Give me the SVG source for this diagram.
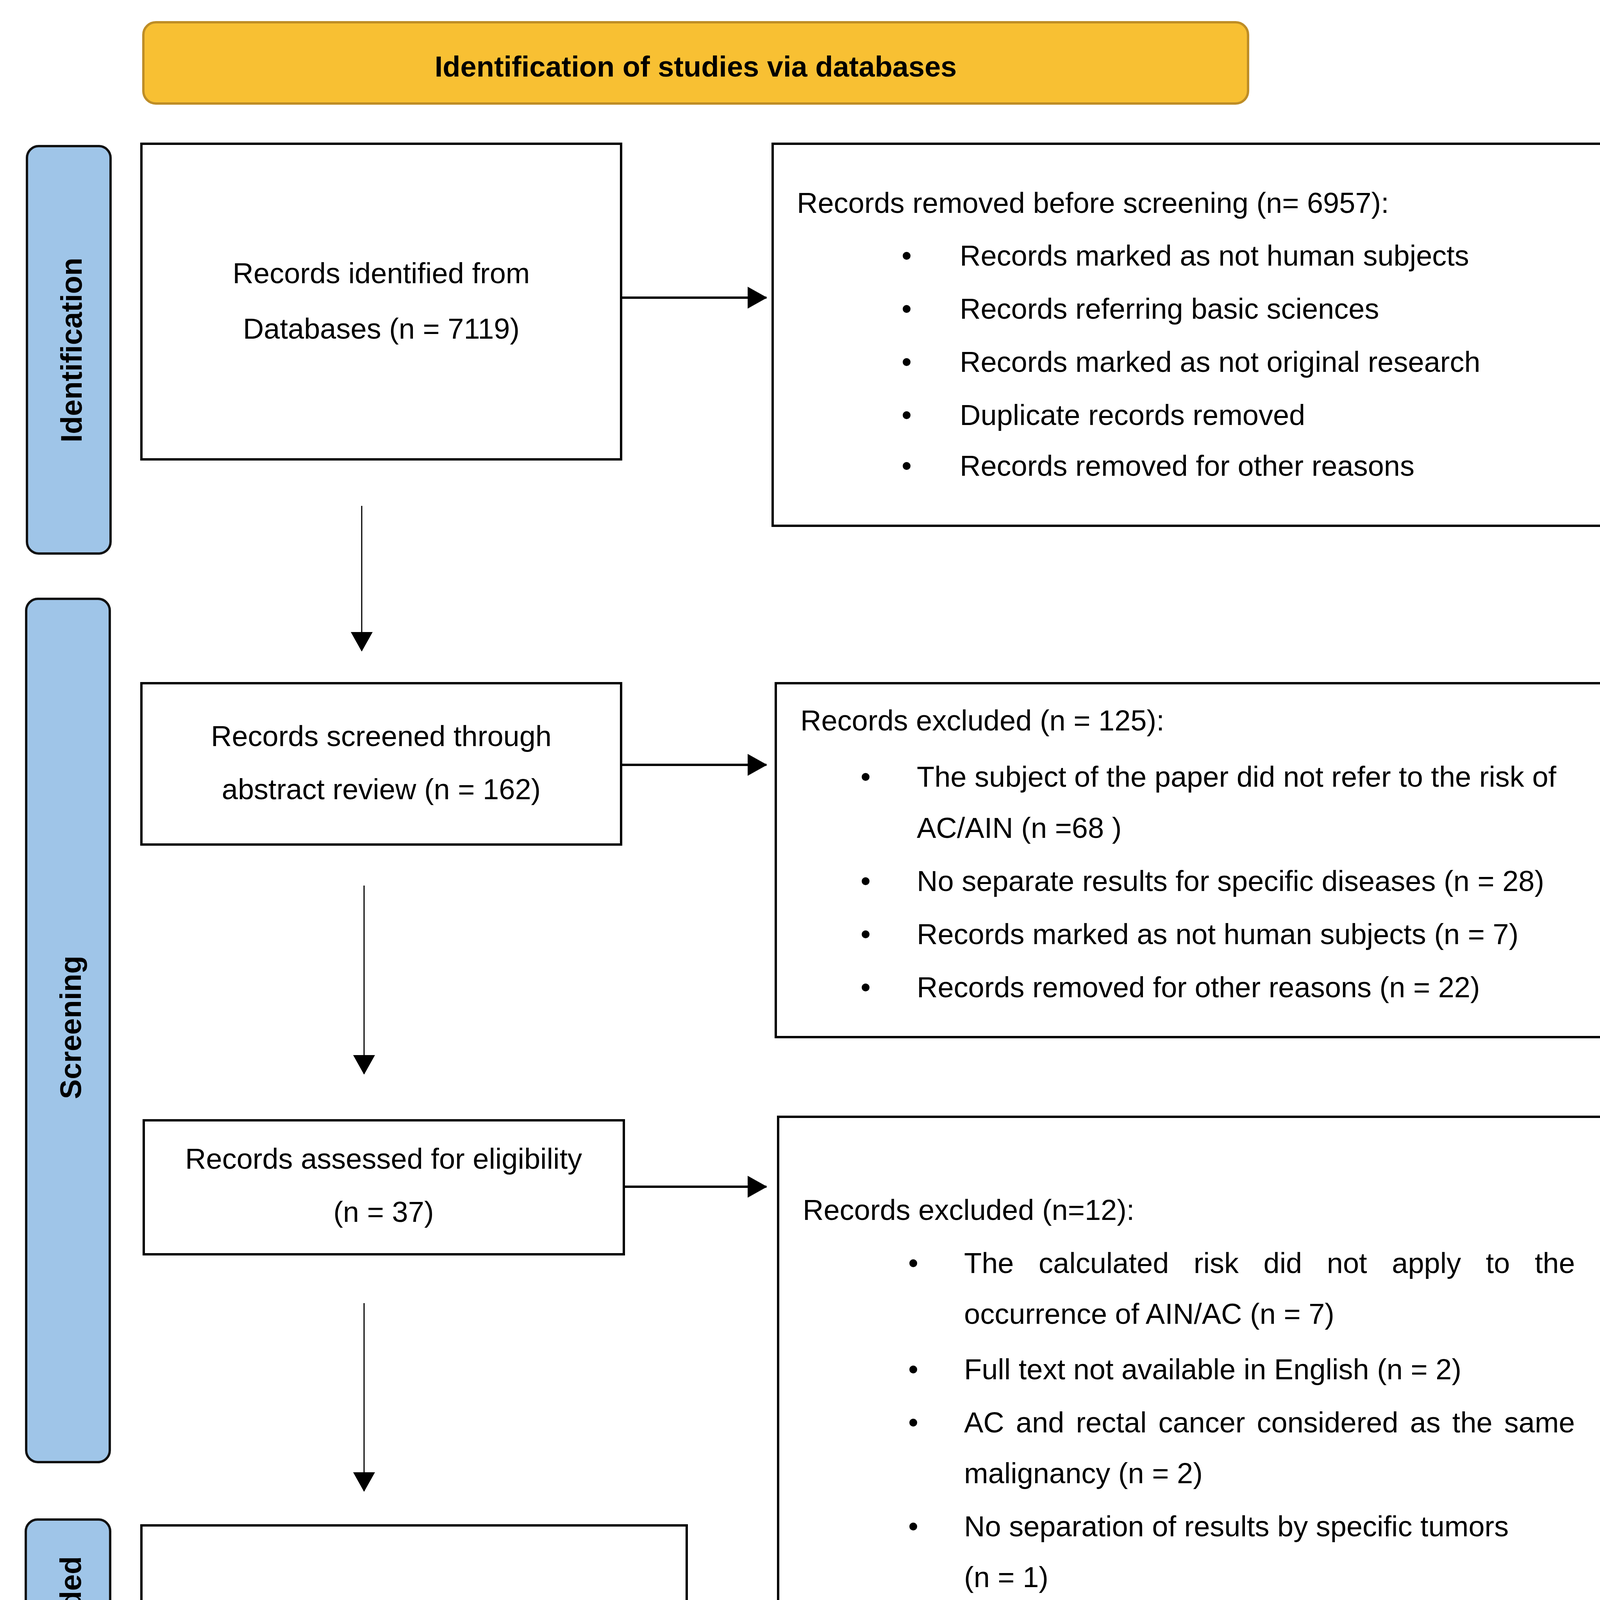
<svg xmlns="http://www.w3.org/2000/svg" width="4179" height="4435" viewBox="0 0 4179 4435">
<style>
text{font-family:"Liberation Sans",Arial,Helvetica,sans-serif;fill:#000;font-size:74px}
.box{fill:#fff;stroke:#000;stroke-width:6}
.bar{fill:#9FC5E8;stroke:#111;stroke-width:6}
.hdr{fill:#F8C033;stroke:#BE8D26;stroke-width:6}
.lab{font-weight:bold;font-size:76px;text-anchor:middle}
.c{text-anchor:middle}
.b{text-anchor:middle}
.h{stroke:#000;stroke-width:6;fill:none}
.v{stroke:#000;stroke-width:3;fill:none}
</style>
<defs>
<marker id="ah" markerUnits="userSpaceOnUse" viewBox="0 0 50 56" refX="48" refY="28" markerWidth="50" markerHeight="56" orient="auto">
<path d="M0,0 L50,28 L0,56 Z" fill="#000"/>
</marker>
</defs>
<rect width="4179" height="4435" fill="#fff"/>

<g id="header">
<rect class="hdr" x="367" y="57" width="2828" height="208" rx="32"/>
<text x="1781" y="196" class="c" style="font-weight:bold">Identification of studies via databases</text>
</g>

<g id="phase-identification">
<rect class="bar" x="69" y="374" width="214" height="1043" rx="30"/>
<text class="lab" transform="translate(209,896) rotate(-90)">Identification</text>
</g>
<g id="phase-screening">
<rect class="bar" x="67" y="1533" width="214" height="2210" rx="30"/>
<text class="lab" transform="translate(207,2630) rotate(-90)">Screening</text>
</g>
<g id="phase-included">
<rect class="bar" x="66" y="3890" width="216" height="500" rx="30"/>
<text class="lab" transform="translate(207,4140) rotate(-90)">Included</text>
</g>

<g id="records-identified">
<rect class="box" x="362" y="368" width="1228" height="808"/>
<text x="976" y="725" class="c">Records identified from</text>
<text x="976" y="867" class="c">Databases (n = 7119)</text>
</g>

<g id="records-removed">
<rect class="box" x="1978" y="368" width="2135" height="978"/>
<text x="2040" y="545">Records removed before screening (n= 6957):</text>
<text x="2321" y="680" class="b">•</text><text x="2457" y="680">Records marked as not human subjects</text>
<text x="2321" y="816" class="b">•</text><text x="2457" y="816">Records referring basic sciences</text>
<text x="2321" y="952" class="b">•</text><text x="2457" y="952">Records marked as not original research</text>
<text x="2321" y="1088" class="b">•</text><text x="2457" y="1088">Duplicate records removed</text>
<text x="2321" y="1218" class="b">•</text><text x="2457" y="1218">Records removed for other reasons</text>
</g>

<g id="records-screened">
<rect class="box" x="362" y="1749" width="1228" height="413"/>
<text x="976" y="1910" class="c">Records screened through</text>
<text x="976" y="2046" class="c">abstract review (n = 162)</text>
</g>

<g id="records-excluded-125">
<rect class="box" x="1986" y="1749" width="2127" height="906"/>
<text x="2049" y="1870">Records excluded (n = 125):</text>
<text x="2216" y="2014" class="b">•</text><text x="2347" y="2014">The subject of the paper did not refer to the risk of</text>
<text x="2347" y="2145">AC/AIN (n =68 )</text>
<text x="2216" y="2281" class="b">•</text><text x="2347" y="2281">No separate results for specific diseases (n = 28)</text>
<text x="2216" y="2417" class="b">•</text><text x="2347" y="2417">Records marked as not human subjects (n = 7)</text>
<text x="2216" y="2553" class="b">•</text><text x="2347" y="2553">Records removed for other reasons (n = 22)</text>
</g>

<g id="records-assessed">
<rect class="box" x="368" y="2868" width="1229" height="343"/>
<text x="982" y="2992" class="c">Records assessed for eligibility</text>
<text x="982" y="3128" class="c">(n = 37)</text>
</g>

<g id="records-excluded-12">
<rect class="box" x="1992" y="2859" width="2111" height="1395"/>
<text x="2055" y="3123">Records excluded (n=12):</text>
<text x="2338" y="3259" class="b">•</text><text x="2468" y="3259" style="word-spacing:43px">The calculated risk did not apply to the</text>
<text x="2468" y="3389">occurrence of AIN/AC (n = 7)</text>
<text x="2338" y="3531" class="b">•</text><text x="2468" y="3531">Full text not available in English (n = 2)</text>
<text x="2338" y="3667" class="b">•</text><text x="2468" y="3667" style="word-spacing:9.5px">AC and rectal cancer considered as the same</text>
<text x="2468" y="3797">malignancy (n = 2)</text>
<text x="2338" y="3933" class="b">•</text><text x="2468" y="3933">No separation of results by specific tumors</text>
<text x="2468" y="4063">(n = 1)</text>
</g>

<g id="studies-included">
<rect class="box" x="362" y="3905" width="1396" height="472"/>
<text x="1059" y="4165" class="c">Studies included in review (n = 25)</text>
</g>

<g id="connectors">
<line class="h" x1="1593" y1="762" x2="1962" y2="762" marker-end="url(#ah)"/>
<line class="h" x1="1593" y1="1958" x2="1962" y2="1958" marker-end="url(#ah)"/>
<line class="h" x1="1600" y1="3038" x2="1962" y2="3038" marker-end="url(#ah)"/>
<line class="v" x1="926" y1="1295" x2="926" y2="1666" marker-end="url(#ah)"/>
<line class="v" x1="932" y1="2267" x2="932" y2="2749" marker-end="url(#ah)"/>
<line class="v" x1="932" y1="3336" x2="932" y2="3817" marker-end="url(#ah)"/>
</g>
</svg>
